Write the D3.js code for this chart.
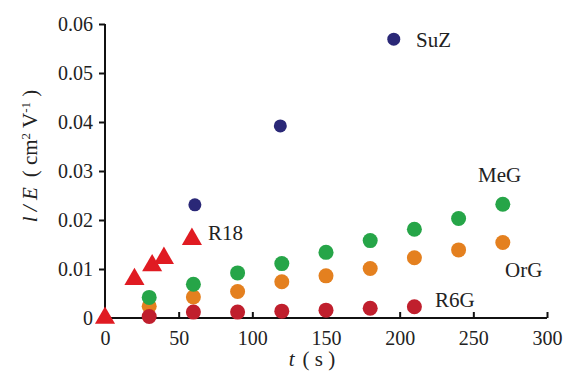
<!DOCTYPE html>
<html>
<head>
<meta charset="utf-8">
<script src="https://cdn.jsdelivr.net/npm/d3@7"></script>
<style>
  body { margin: 0; background: #fff; }
  svg text { font-family: "Liberation Serif", "DejaVu Serif", "Times New Roman", Times, serif !important; fill: #222; }
</style>
</head>
<body>
<svg id="chart" width="566" height="377"></svg>
<script>
// values
const timeR18 = [0, 20, 32, 40, 59];
const valR18 = [0, 0.0079, 0.0107, 0.0122, 0.0161];

const timeSuZ = [61, 119, 196];
const valSuZ = [0.0231, 0.0392, 0.0569];

const timeDye = [30, 60, 90, 120, 150, 180, 210, 240, 270];
const valMeG = [0.0042, 0.0069, 0.0092, 0.0111, 0.0134, 0.0158, 0.0181, 0.0203, 0.0232];
const valOrG = [0.0024, 0.0043, 0.0054, 0.0074, 0.0086, 0.0101, 0.0123, 0.0139, 0.0154];
const timeR6G = [30, 60, 90, 120, 150, 180, 210];
const valR6G = [0.0003, 0.0012, 0.0012, 0.0014, 0.0016, 0.0020, 0.0023];

const xTicks = [0, 50, 100, 150, 200, 250, 300];
const yTicks = [0, 0.01, 0.02, 0.03, 0.04, 0.05, 0.06];

const svg = d3.select("#chart");
const mLeft = 105, mRight = 547, mTop = 24, mBottom = 318;
const serif = '"Liberation Serif", "DejaVu Serif", "Times New Roman", Times, serif';

const x = d3.scaleLinear().domain([0, 300]).range([mLeft, mRight]);
const y = d3.scaleLinear().domain([0, 0.06]).range([mBottom, mTop]);

// axes
const xAxis = svg.append("g")
    .attr("transform", `translate(0,${mBottom})`)
    .call(d3.axisBottom(x).tickValues(xTicks).tickSize(-6).tickPadding(13));
const yAxis = svg.append("g")
    .attr("transform", `translate(${mLeft},0)`)
    .call(d3.axisLeft(y).tickValues(yTicks).tickSize(6).tickPadding(6)
        .tickFormat(d => d === 0 ? "0" : d3.format(".2f")(d)));

[xAxis, yAxis].forEach(g => {
    g.attr("font-family", serif).attr("font-size", 20);
    g.select(".domain").attr("stroke", "#111").attr("stroke-width", 2);
    g.selectAll(".tick line").attr("stroke", "#111").attr("stroke-width", 2);
    g.selectAll(".tick text").attr("fill", "#222");
});
yAxis.selectAll(".tick text").attr("dy", "0.34em");
yAxis.select(".domain").attr("d", `M0,${mBottom}V${mTop}`);
xAxis.select(".domain").attr("d", `M${mLeft},0H${mRight}`);

function dots(ts, vs, color, r) {
    svg.append("g").selectAll("circle")
        .data(ts.map((t, i) => [t, vs[i]]))
        .enter()
        .append("circle")
        .attr("cx", d => x(d[0]))
        .attr("cy", d => y(d[1]))
        .attr("r", r)
        .attr("fill", color);
}

dots(timeDye, valOrG, "#e4801f", 7.5);
dots(timeDye, valMeG, "#26a548", 7.5);
dots(timeR6G, valR6G, "#c01f2d", 7.5);
dots(timeSuZ, valSuZ, "#2a2877", 6.5);

const tri = d3.symbol().type(d3.symbolTriangle).size(175);
svg.append("g").selectAll("path")
    .data(timeR18.map((t, i) => [t, valR18[i]]))
    .enter()
    .append("path")
    .attr("d", tri)
    .attr("transform", d => `translate(${x(d[0])},${y(d[1])})`)
    .attr("fill", "#e01b22");

// series labels
const labels = [
    ["SuZ", 416, 47],
    ["R18", 208, 240],
    ["MeG", 478, 182],
    ["OrG", 505, 277],
    ["R6G", 435, 307]
];
svg.append("g").selectAll("text")
    .data(labels)
    .enter()
    .append("text")
    .attr("x", d => d[1])
    .attr("y", d => d[2])
    .attr("font-family", serif)
    .attr("font-size", 21)
    .text(d => d[0]);

// axis titles
const yt = svg.append("text")
    .attr("transform", "translate(37,156) rotate(-90)")
    .attr("text-anchor", "middle")
    .attr("font-family", serif)
    .attr("font-size", 21);
yt.append("tspan").style("font-style", "italic").text("l / E");
yt.append("tspan").attr("dx", 10).text("( cm");
yt.append("tspan").attr("dy", -7).attr("font-size", 13).text("2");
yt.append("tspan").attr("dy", 7).text(" V");
yt.append("tspan").attr("dy", -7).attr("font-size", 13).text("-1");
yt.append("tspan").attr("dy", 7).text(" )");

const xt = svg.append("text")
    .attr("x", 312)
    .attr("y", 366)
    .attr("text-anchor", "middle")
    .attr("font-family", serif)
    .attr("font-size", 21);
xt.append("tspan").style("font-style", "italic").text("t");
xt.append("tspan").attr("dx", 8).text("( s )");
</script>
</body>
</html>
